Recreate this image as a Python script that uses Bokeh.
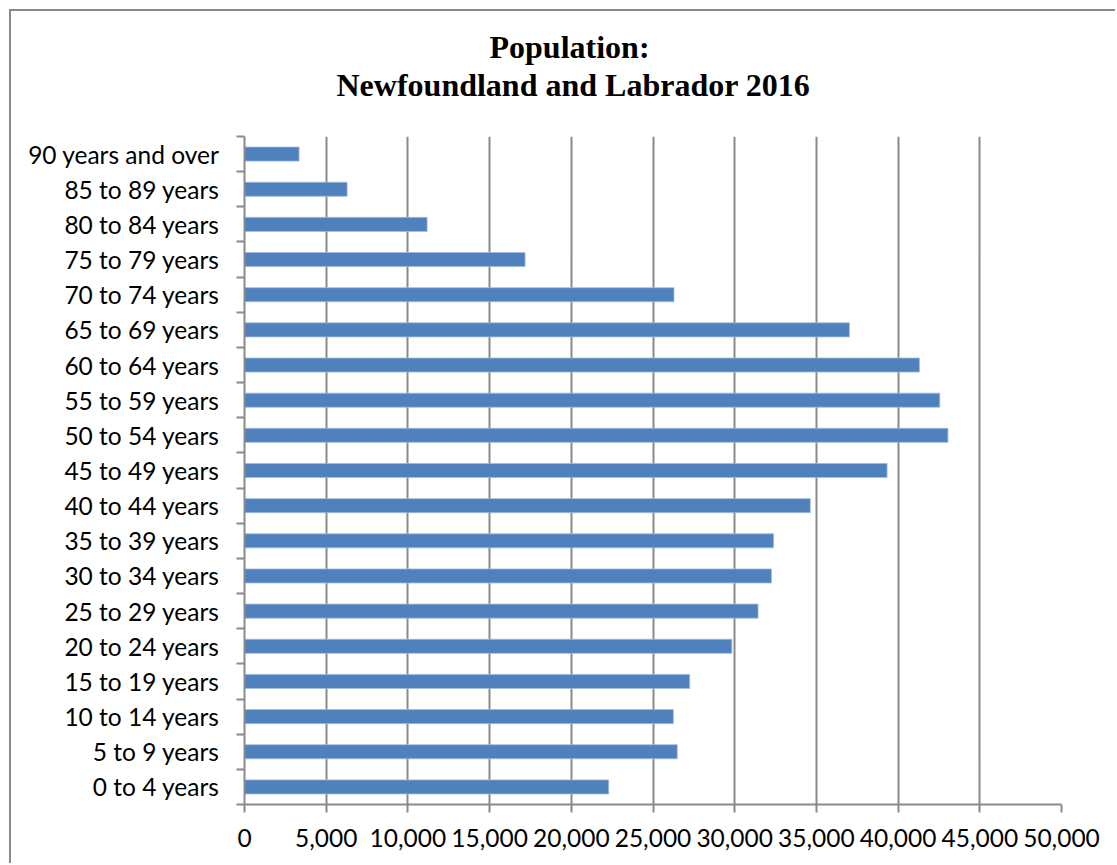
from bokeh.plotting import figure
from bokeh.models import Range1d, FixedTicker, NumeralTickFormatter, Title
from bokeh.embed import file_html
from bokeh.resources import INLINE

# Population by age group, Newfoundland and Labrador, 2016 census
age_groups = [
    "0 to 4 years", "5 to 9 years", "10 to 14 years", "15 to 19 years",
    "20 to 24 years", "25 to 29 years", "30 to 34 years", "35 to 39 years",
    "40 to 44 years", "45 to 49 years", "50 to 54 years", "55 to 59 years",
    "60 to 64 years", "65 to 69 years", "70 to 74 years", "75 to 79 years",
    "80 to 84 years", "85 to 89 years", "90 years and over",
]
population = [
    22290, 26485, 26245, 27245, 29825, 31430, 32245, 32380, 34625, 39325,
    43050, 42550, 41305, 37020, 26285, 17170, 11175, 6280, 3340,
]
x_ticks = [0, 5000, 10000, 15000, 20000, 25000, 30000, 35000, 40000, 45000, 50000]
title_lines = ["Population:", "Newfoundland and Labrador 2016"]

# page geometry: the chart box starts 9px in, with a 2px rule on its left/top edge
INSET, RULE = 9, 2
ORIGIN = INSET + RULE
W, H = 1117 - ORIGIN, 865 - ORIGIN
LEFT, RIGHT, TOP, BOTTOM = 244 - ORIGIN, 56, 136 - ORIGIN, 61
GRID = "#8a8a8a"
BAR = "#4f81bd"
LABEL_FONT = "Lato"
LABEL_SIZE = "24.5px"

positions = list(range(len(age_groups)))

p = figure(width=W, height=H, output_backend="svg", toolbar_location=None,
           x_range=Range1d(0, 50000), y_range=Range1d(-0.5, len(age_groups) - 0.5),
           min_border_left=LEFT, min_border_right=RIGHT,
           min_border_top=TOP, min_border_bottom=BOTTOM,
           styles={"margin-left": f"{INSET}px", "margin-top": f"{INSET}px",
                   "border-left": f"{RULE}px solid {GRID}",
                   "border-top": f"{RULE}px solid {GRID}"})
p.outline_line_color = None
p.background_fill_color = "white"
p.border_fill_color = "white"

p.hbar(y=positions, right=population, left=0, height=0.4,
       fill_color=BAR, line_color="#a3bbdc", line_width=0.8)

# x axis
p.xaxis.ticker = FixedTicker(ticks=x_ticks)
p.xaxis.formatter = NumeralTickFormatter(format="0,0")
p.xaxis.axis_line_color = GRID
p.xaxis.axis_line_width = 2
p.xaxis.major_tick_line_color = GRID
p.xaxis.major_tick_line_width = 2
p.xaxis.major_tick_out = 8
p.xaxis.major_tick_in = 0
p.xaxis.minor_tick_line_color = None
p.xaxis.major_label_standoff = 16
p.xaxis.major_label_text_font = LABEL_FONT
p.xaxis.major_label_text_font_size = LABEL_SIZE
p.xaxis.major_label_text_color = "black"

# y axis: labels at category centres, tick marks at category boundaries
p.yaxis.ticker = FixedTicker(ticks=positions,
                             minor_ticks=[i - 0.5 for i in range(len(age_groups) + 1)])
p.yaxis.major_label_overrides = {i: g for i, g in enumerate(age_groups)}
p.yaxis.axis_line_color = GRID
p.yaxis.axis_line_width = 2
p.yaxis.major_tick_line_color = None
p.yaxis.major_tick_out = 0
p.yaxis.major_tick_in = 0
p.yaxis.minor_tick_line_color = GRID
p.yaxis.minor_tick_line_width = 2
p.yaxis.minor_tick_out = 8
p.yaxis.minor_tick_in = 0
p.yaxis.major_label_standoff = 17
p.yaxis.major_label_text_font = LABEL_FONT
p.yaxis.major_label_text_font_size = LABEL_SIZE
p.yaxis.major_label_text_color = "black"

p.xgrid.grid_line_color = GRID
p.xgrid.grid_line_width = 2
p.ygrid.visible = False

# two-line chart title, centred over the chart box; the second line keeps a
# wide gap to the plot area, the first line is pulled back down next to it
for line, offset, standoff in [(title_lines[1], 92, 68), (title_lines[0], 245, -68)]:
    p.add_layout(Title(text=line, align="left", offset=offset, standoff=standoff,
                       text_font="Liberation Serif", text_font_style="bold",
                       text_font_size="32px", text_color="black"), "above")

open("out.html", "w").write(file_html(p, INLINE))
